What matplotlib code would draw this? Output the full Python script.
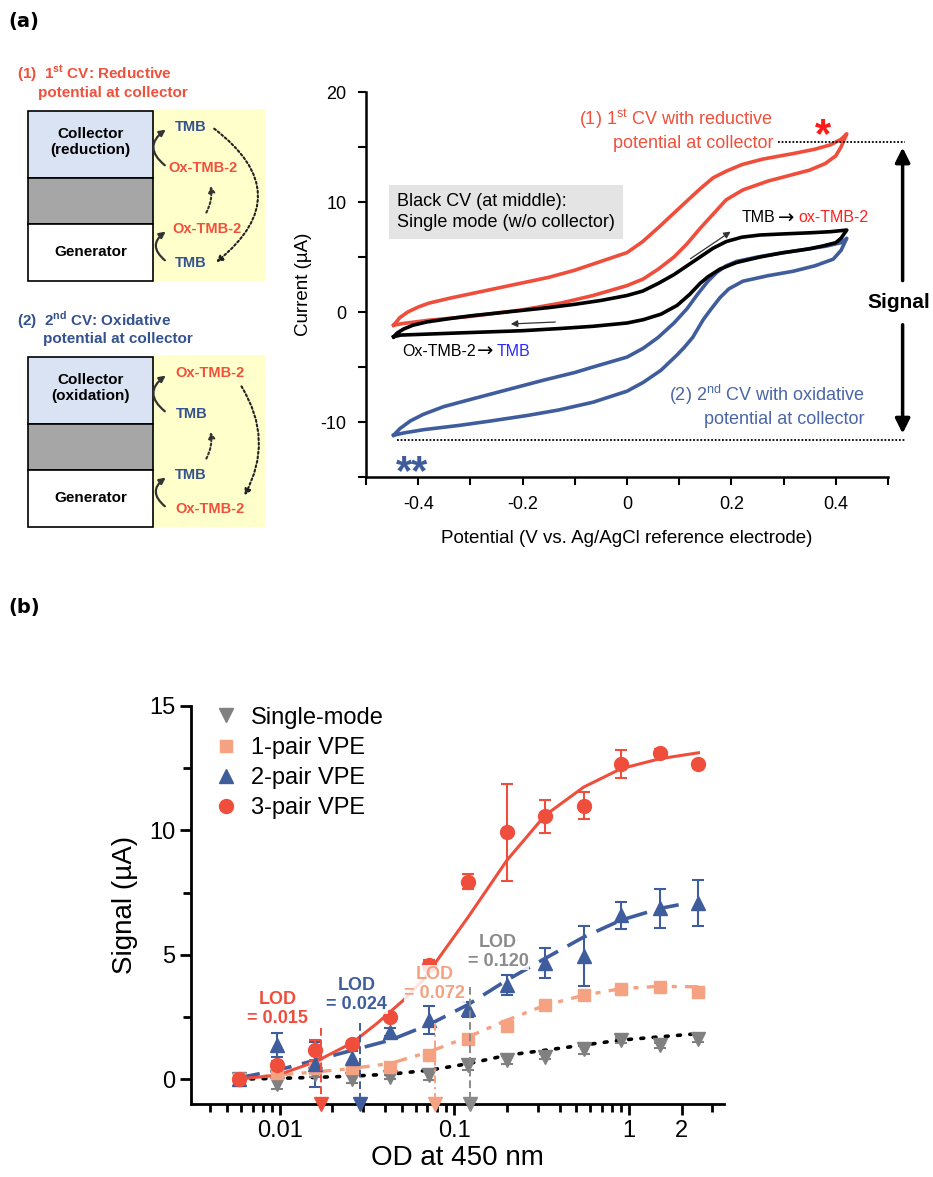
import matplotlib
matplotlib.use('Agg')
import matplotlib.pyplot as plt
from matplotlib.patches import Rectangle, FancyArrowPatch
from matplotlib.lines import Line2D
from matplotlib.ticker import LogLocator, NullFormatter

plt.rcParams['font.family'] = ['Liberation Sans', 'DejaVu Sans']
plt.rcParams['mathtext.fontset'] = 'custom'
plt.rcParams['mathtext.rm'] = 'Liberation Sans'
plt.rcParams['mathtext.bf'] = 'Liberation Sans:bold'
plt.rcParams['axes.unicode_minus'] = False

RED = '#f04e3c'
BLUE = '#3f5d9c'
SALMON = '#f5a283'
GRAY = '#808080'
TXT_RED = '#f0503c'
TXT_BLUE = '#34528f'

# ---- panel (a): cyclic voltammograms (V, uA) ----
red_fwd_v = [-0.447, -0.435, -0.42, -0.40, -0.38, -0.34, -0.3, -0.25, -0.2, -0.15, -0.1, -0.05, 0.0, 0.03,
             0.063, 0.09, 0.115, 0.14, 0.165, 0.19, 0.22, 0.26, 0.318, 0.36, 0.39, 0.41, 0.421]
red_fwd_i = [-1.2, -0.5, 0.0, 0.45, 0.8, 1.25, 1.65, 2.15, 2.65, 3.15, 3.8, 4.6, 5.4, 6.4,
             7.8, 9.0, 10.1, 11.2, 12.2, 12.8, 13.4, 13.9, 14.4, 14.8, 15.2, 15.7, 16.2]
red_rev_v = [0.421, 0.41, 0.40, 0.38, 0.35, 0.318, 0.27, 0.222, 0.19, 0.165, 0.14, 0.115, 0.09, 0.06,
             0.031, 0.0, -0.065, -0.128, -0.2, -0.3, -0.38, -0.43, -0.447]
red_rev_i = [16.2, 15.0, 14.2, 13.5, 12.9, 12.5, 11.9, 11.1, 10.2, 8.9, 7.6, 6.2, 5.0, 3.9,
             3.0, 2.4, 1.5, 0.8, 0.2, -0.4, -0.75, -1.05, -1.2]

black_fwd_v = [-0.447, -0.44, -0.428, -0.41, -0.383, -0.34, -0.3, -0.25, -0.2, -0.15, -0.1, -0.05, 0.0,
               0.03, 0.06, 0.09, 0.115, 0.14, 0.165, 0.19, 0.22, 0.255, 0.3, 0.35, 0.39, 0.421]
black_fwd_i = [-2.25, -1.9, -1.55, -1.2, -0.9, -0.6, -0.35, -0.1, 0.15, 0.4, 0.7, 1.05, 1.5,
               1.9, 2.6, 3.4, 4.2, 5.0, 5.8, 6.4, 6.8, 7.0, 7.1, 7.2, 7.3, 7.45]
black_rev_v = [0.421, 0.41, 0.40, 0.375, 0.35, 0.3, 0.255, 0.21, 0.178, 0.155, 0.14, 0.12, 0.096, 0.065,
               0.031, 0.0, -0.065, -0.128, -0.2, -0.32, -0.434, -0.447]
black_rev_i = [7.45, 6.7, 6.3, 6.0, 5.75, 5.4, 5.0, 4.5, 3.9, 3.2, 2.6, 1.6, 0.6, -0.2,
               -0.7, -1.0, -1.3, -1.5, -1.7, -1.9, -2.1, -2.25]

blue_fwd_v = [-0.447, -0.435, -0.415, -0.39, -0.351, -0.3, -0.256, -0.2, -0.16, -0.1, -0.065, 0.0, 0.031,
              0.06, 0.09, 0.115, 0.135, 0.155, 0.172, 0.19, 0.21, 0.25, 0.287, 0.33, 0.383, 0.41, 0.421]
blue_fwd_i = [-11.2, -10.6, -9.9, -9.3, -8.6, -7.95, -7.4, -6.7, -6.2, -5.5, -5.0, -4.1, -3.3,
              -2.3, -1.0, 0.3, 1.6, 2.8, 3.6, 4.2, 4.6, 5.0, 5.3, 5.6, 6.0, 6.3, 6.7]
blue_rev_v = [0.421, 0.41, 0.395, 0.36, 0.318, 0.27, 0.222, 0.195, 0.178, 0.16, 0.146, 0.126, 0.11, 0.096,
              0.065, 0.031, 0.0, -0.065, -0.13, -0.19, -0.26, -0.32, -0.39, -0.428, -0.447]
blue_rev_i = [6.7, 5.6, 4.8, 4.2, 3.7, 3.3, 2.8, 2.1, 1.3, 0.2, -0.7, -2.3, -3.2, -3.9,
              -5.3, -6.4, -7.2, -8.2, -8.9, -9.4, -9.9, -10.3, -10.7, -11.0, -11.2]

cv_xticks = [-0.4, -0.2, 0, 0.2, 0.4]
cv_xticklabels = ['-0.4', '-0.2', '0', '0.2', '0.4']
cv_yticks = [-10, 0, 10, 20]

# ---- panel (b): signal vs OD ----
od = [0.0058, 0.0097, 0.016, 0.026, 0.043, 0.072, 0.12, 0.2, 0.33, 0.55, 0.9, 1.5, 2.5]
single = [0.0, -0.2, 0.2, 0.0, 0.1, 0.16, 0.56, 0.76, 0.9, 1.23, 1.57, 1.37, 1.63]
single_err = [0.15, 0.2, 0.1, 0.15, 0.1, 0.2, 0.2, 0.15, 0.1, 0.2, 0.1, 0.1, 0.15]
pair1 = [0.0, 0.25, 0.43, 0.43, 0.5, 0.96, 1.63, 2.13, 3.0, 3.37, 3.64, 3.71, 3.51]
pair1_err = [0.15, 0.1, 0.15, 0.1, 0.1, 0.1, 0.1, 0.1, 0.1, 0.1, 0.1, 0.1, 0.15]
pair2 = [0.0, 1.37, 0.6, 0.83, 1.9, 2.37, 2.8, 3.78, 4.67, 4.94, 6.59, 6.86, 7.08]
pair2_err = [0.15, 0.5, 0.9, 0.3, 0.15, 0.55, 0.3, 0.4, 0.6, 1.2, 0.55, 0.8, 0.93]
pair3 = [0.0, 0.56, 1.16, 1.43, 2.5, 4.6, 7.93, 9.93, 10.56, 11.0, 12.68, 13.12, 12.65]
pair3_err = [0.1, 0.15, 0.4, 0.1, 0.15, 0.2, 0.3, 1.95, 0.67, 0.54, 0.56, 0.15, 0.15]
series_labels = ['Single-mode', '1-pair VPE', '2-pair VPE', '3-pair VPE']

fit_single_x = [0.0058, 0.0097, 0.016, 0.026, 0.043, 0.072, 0.12, 0.2, 0.33, 0.55, 0.9, 1.5, 2.5]
fit_single_y = [0.0, 0.03, 0.07, 0.12, 0.2, 0.36, 0.62, 0.96, 1.16, 1.37, 1.57, 1.7, 1.83]
fit_pair1_x = [0.0058, 0.0097, 0.016, 0.026, 0.043, 0.072, 0.12, 0.2, 0.33, 0.55, 0.9, 1.5, 2.5]
fit_pair1_y = [0.03, 0.16, 0.29, 0.43, 0.63, 1.1, 1.7, 2.37, 2.97, 3.37, 3.64, 3.73, 3.71]
fit_pair2_x = [0.0058, 0.0097, 0.016, 0.026, 0.043, 0.072, 0.12, 0.2, 0.33, 0.55, 0.9, 1.5, 2.1]
fit_pair2_y = [0.05, 0.36, 0.76, 1.16, 1.57, 2.2, 3.0, 3.98, 4.85, 5.71, 6.39, 6.86, 7.06]
fit_pair3_x = [0.0058, 0.0097, 0.016, 0.026, 0.036, 0.051, 0.066, 0.082, 0.12, 0.2, 0.33, 0.55, 0.9, 1.5, 2.5]
fit_pair3_y = [0.0, 0.16, 0.7, 1.46, 2.24, 3.17, 3.98, 4.9, 6.52, 8.8, 10.6, 11.74, 12.48, 12.88, 13.12]

lod_values = [0.0173, 0.0288, 0.0773, 0.1228]
lod_tops = [2.05, 2.25, 2.25, 3.7]
lod_labels = ['LOD\n= 0.015', 'LOD\n= 0.024', 'LOD\n= 0.072', 'LOD\n= 0.120']
lod_text_x = [0.0097, 0.0276, 0.0772, 0.178]
lod_text_y = [2.8, 3.38, 3.83, 5.12]

fig = plt.figure(figsize=(9.33, 11.77), dpi=100)

# overlay in pixel coordinates for the schematic and panel letters
ax0 = fig.add_axes([0, 0, 1, 1])
ax0.set_xlim(0, 933)
ax0.set_ylim(1177, 0)
ax0.axis('off')

ax0.text(8, 22, '(a)', fontsize=14, fontweight='bold', family='DejaVu Sans', va='center')
ax0.text(8, 607, '(b)', fontsize=14, fontweight='bold', family='DejaVu Sans', va='center')


def schematic(top, title1, title2, tcolor, t2x, labels, ctext):
    # top: y of the box top, boxes span about 170 px
    ax0.text(17, top - 37, title1, color=tcolor, fontsize=11, fontweight='bold', va='center')
    ax0.text(t2x, top - 18, title2, color=tcolor, fontsize=11, fontweight='bold', va='center')
    ax0.add_patch(Rectangle((153, top - 2), 112, 172, fc='#ffffcc', ec='none'))
    ax0.add_patch(Rectangle((28, top), 125, 67, fc='#dae3f3', ec='black', lw=1.2))
    ax0.add_patch(Rectangle((28, top + 67), 125, 46, fc='#a6a6a6', ec='black', lw=1.2))
    ax0.add_patch(Rectangle((28, top + 113), 125, 57, fc='white', ec='black', lw=1.2))
    ax0.text(90.5, top + 31, ctext, fontsize=11, fontweight='bold', ha='center', va='center', linespacing=1.1)
    ax0.text(90.5, top + 141, 'Generator', fontsize=11, fontweight='bold', ha='center', va='center')
    ys = [top + 16, top + 57, top + 118, top + 152]
    for (txt, col, x), y in zip(labels, ys):
        ax0.text(x, y, txt, color=col, fontsize=10.5, fontweight='bold', va='center')
    for y0, y1 in [(ys[1] - 1, ys[0] + 1), (ys[3] - 1, ys[2] + 1)]:
        ax0.add_patch(FancyArrowPatch((167, y0), (168, y1), connectionstyle='arc3,rad=-0.7',
                                      arrowstyle='-|>', mutation_scale=9, lw=1.6, color='#333333'))
    ax0.add_patch(FancyArrowPatch((205, ys[2] - 14), (210, ys[1] + 15), connectionstyle='arc3,rad=0.2',
                                  arrowstyle='-|>', mutation_scale=9, lw=1.5, ls=(0, (1, 1.2)), color='#333333'))


schematic(111, '(1)  1$^{\\mathbf{st}}$ CV: Reductive', 'potential at collector', TXT_RED, 38,
          [('TMB', TXT_BLUE, 175), ('Ox-TMB-2', TXT_RED, 168), ('Ox-TMB-2', TXT_RED, 172), ('TMB', TXT_BLUE, 175)],
          'Collector\n(reduction)')
ax0.add_patch(FancyArrowPatch((212, 127), (214, 264), connectionstyle='arc3,rad=-0.65',
                              arrowstyle='-|>', mutation_scale=9, lw=1.5, ls=(0, (1, 1.2)), color='#222222'))

schematic(357, '(2)  2$^{\\mathbf{nd}}$ CV: Oxidative', 'potential at collector', TXT_BLUE, 43,
          [('Ox-TMB-2', TXT_RED, 175), ('TMB', TXT_BLUE, 176), ('TMB', TXT_BLUE, 175), ('Ox-TMB-2', TXT_RED, 175)],
          'Collector\n(oxidation)')
ax0.add_patch(FancyArrowPatch((240, 384), (243, 498), connectionstyle='arc3,rad=-0.3',
                              arrowstyle='-|>', mutation_scale=9, lw=1.5, ls=(0, (1, 1.2)), color='#222222'))

# ---- CV axes ----
ax = fig.add_axes([366 / 933, 1 - 477 / 1177, 522 / 933, 385 / 1177])
ax.patch.set_alpha(0)
ax.plot(red_fwd_v + red_rev_v, red_fwd_i + red_rev_i, color=RED, lw=2.6, solid_joinstyle='round')
ax.plot(blue_fwd_v + blue_rev_v, blue_fwd_i + blue_rev_i, color=BLUE, lw=2.6, solid_joinstyle='round')
ax.plot(black_fwd_v + black_rev_v, black_fwd_i + black_rev_i, color='black', lw=2.6, solid_joinstyle='round')
ax.set_xlim(-0.5, 0.5)
ax.set_ylim(-15, 20)
for s in ['top', 'right']:
    ax.spines[s].set_visible(False)
for s in ['left', 'bottom']:
    ax.spines[s].set_linewidth(1.8)
ax.set_xticks(cv_xticks)
ax.set_xticklabels(cv_xticklabels)
ax.set_xticks([-0.5, -0.3, -0.1, 0.1, 0.3, 0.5], minor=True)
ax.set_yticks(cv_yticks)
ax.set_yticks([-15, -5, 5, 15], minor=True)
ax.tick_params(which='both', direction='out', length=6, width=1.5, labelsize=13, pad=8)
ax.set_xlabel('Potential (V vs. Ag/AgCl reference electrode)', fontsize=13.5, labelpad=12)
ax.set_ylabel('Current (\u00b5A)', fontsize=13.5, labelpad=6)

ax.text(-0.44, 9.1, 'Black CV (at middle):\nSingle mode (w/o collector)', fontsize=13, va='center', ha='left',
        linespacing=1.25, bbox=dict(boxstyle='square,pad=0.45', fc='#e4e4e4', ec='none'))
ax.text(0.28, 16.6, '(1) 1$^{\\mathrm{st}}$ CV with reductive\npotential at collector', color=TXT_RED, fontsize=13,
        ha='right', va='center', linespacing=1.3)
ax.text(0.455, -8.5, '(2) 2$^{\\mathrm{nd}}$ CV with oxidative\npotential at collector', color='#4a66a6', fontsize=13,
        ha='right', va='center', linespacing=1.3)
ax.text(0.22, 8.55, 'TMB', fontsize=11.5, va='center', ha='left')
ax.text(0.305, 8.55, '\u2192', fontsize=14, va='center', ha='center', family='DejaVu Sans')
ax.text(0.328, 8.55, 'ox-TMB-2', fontsize=11.5, va='center', ha='left', color='#ff2020')
ax.text(-0.431, -3.6, 'Ox-TMB-2', fontsize=11.5, va='center', ha='left')
ax.text(-0.272, -3.6, '\u2192', fontsize=14, va='center', ha='center', family='DejaVu Sans')
ax.text(-0.25, -3.6, 'TMB', fontsize=11.5, va='center', ha='left', color='#2a2aff')
ax.annotate('', xy=(0.203, 7.45), xytext=(0.117, 4.7),
            arrowprops=dict(arrowstyle='-|>', lw=0.9, color='#333333', mutation_scale=10))
ax.annotate('', xy=(-0.228, -1.1), xytext=(-0.132, -0.9),
            arrowprops=dict(arrowstyle='-|>', lw=0.9, color='#333333', mutation_scale=10))
ax.text(0.375, 16.0, '*', color='#ff1a1a', fontsize=30, fontweight='bold', ha='center', va='center')
ax.text(-0.412, -14.6, '**', color=BLUE, fontsize=30, fontweight='bold', ha='center', va='center')
ax.plot([0.289, 0.532], [15.45, 15.45], ls=(0, (1, 1)), color='black', lw=1.3, clip_on=False)
ax.plot([-0.44, 0.532], [-11.6, -11.6], ls=(0, (1, 1)), color='black', lw=1.3, clip_on=False)
ax.annotate('', xy=(0.528, 15.2), xytext=(0.528, 2.6), annotation_clip=False,
            arrowprops=dict(arrowstyle='-|>', lw=2.5, color='black', mutation_scale=22))
ax.annotate('', xy=(0.528, -11.3), xytext=(0.528, -0.9), annotation_clip=False,
            arrowprops=dict(arrowstyle='-|>', lw=2.5, color='black', mutation_scale=22))
ax.text(0.52, 0.85, 'Signal', fontsize=15, fontweight='bold', ha='center', va='center')

# ---- panel (b) axes ----
bx = fig.add_axes([191 / 933, 1 - 1104 / 1177, 533 / 933, 398 / 1177])
bx.patch.set_alpha(0)
bx.set_xscale('log')
bx.plot(fit_single_x, fit_single_y, color='black', lw=2.6, ls=(0, (0.8, 2.6)), dash_capstyle='round', zorder=2)
bx.plot(fit_pair1_x, fit_pair1_y, color=SALMON, lw=2.4, ls=(0, (5, 2.5, 1.5, 2.5)), zorder=2)
bx.plot(fit_pair2_x, fit_pair2_y, color=BLUE, lw=2.6, ls=(0, (6, 3)), zorder=2)
bx.plot(fit_pair3_x, fit_pair3_y, color=RED, lw=2.2, zorder=2)

ekw = dict(ls='none', capsize=4, elinewidth=1.5, capthick=1.5, zorder=3)
markers = ['v', 's', '^', 'o']
sizes = [10, 8.5, 10, 10]
colors = [GRAY, SALMON, BLUE, RED]
for vals, errs, m, ms, c in zip([single, pair1, pair2, pair3], [single_err, pair1_err, pair2_err, pair3_err],
                                markers, sizes, colors):
    bx.errorbar(od, vals, yerr=errs, fmt=m, ms=ms, color=c, **ekw)

lod_colors = [RED, BLUE, SALMON, '#8a8a8a']
lod_styles = [(0, (4, 2)), (0, (4, 2)), (0, (4, 2, 1, 2)), (0, (4, 2))]
for xv, top, lab, tx, ty, c, st in zip(lod_values, lod_tops, lod_labels, lod_text_x, lod_text_y, lod_colors, lod_styles):
    bx.plot([xv, xv], [top, -0.9], color=c, lw=1.4, ls=st, zorder=5)
    bx.plot([xv], [-1.0], marker='v', ms=10, color=c, clip_on=False, zorder=6)
    bx.text(tx, ty, lab, color=c, fontsize=13, fontweight='bold', ha='center', va='center', linespacing=1.15,
            zorder=4, bbox=dict(fc='white', ec='none', alpha=0.85, pad=0.5))

bx.set_xlim(0.0031, 3.5)
bx.set_ylim(-1, 15)
for s in ['top', 'right']:
    bx.spines[s].set_visible(False)
for s in ['left', 'bottom']:
    bx.spines[s].set_linewidth(2)
bx.set_xticks([0.01, 0.1, 1, 2])
bx.set_xticklabels(['0.01', '0.1', '1', '2'])
bx.xaxis.set_minor_locator(LogLocator(base=10, subs=[2, 3, 4, 5, 6, 7, 8, 9]))
bx.xaxis.set_minor_formatter(NullFormatter())
bx.set_yticks([0, 5, 10, 15])
bx.set_yticks([2.5, 7.5, 12.5], minor=True)
bx.tick_params(which='major', direction='out', length=8, width=2, labelsize=17)
bx.tick_params(which='minor', direction='out', length=6, width=2)
bx.set_xlabel('OD at 450 nm', fontsize=20, labelpad=2)
bx.set_ylabel('Signal (\u00b5A)', fontsize=20, labelpad=8)
handles = [Line2D([], [], ls='none', marker=m, ms=ms, color=c) for m, ms, c in zip(markers, sizes, colors)]
bx.legend(handles, series_labels, loc='upper left', bbox_to_anchor=(0.022, 1.022), frameon=False, fontsize=17,
          handlelength=1.2, handletextpad=0.45, labelspacing=0.35, borderaxespad=0)

fig.savefig('out.png', dpi=100)
